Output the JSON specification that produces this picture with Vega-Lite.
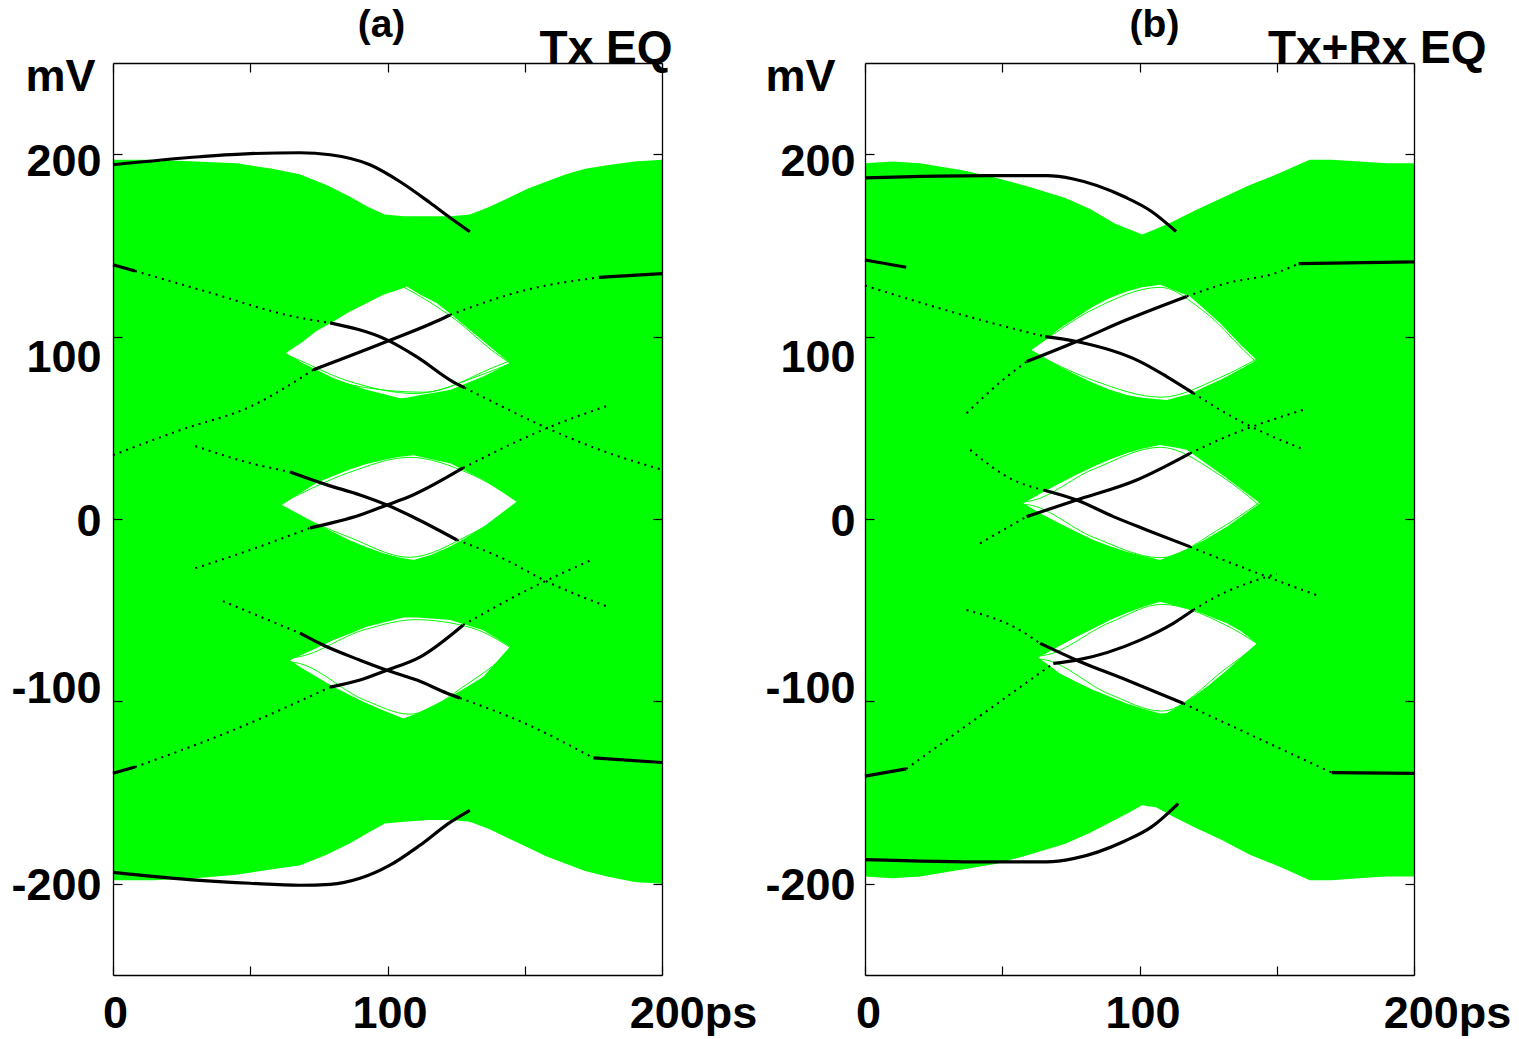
{
"$schema": "https://vega.github.io/schema/vega-lite/v6.json",
"background": "white",
"padding": {"left": 10, "top": 5, "right": 5, "bottom": 0},
"config": {
  "view": {"stroke": null},
  "axis": {"labelFont": "Liberation Sans", "labelFontWeight": "bold", "labelFontSize": 45, "labelColor": "#000",
           "titleFont": "Liberation Sans", "titleFontWeight": "bold", "titleFontSize": 45, "titleColor": "#000",
           "domainColor": "#000", "domainWidth": 1.3, "tickColor": "#000", "tickWidth": 1.2, "grid": false,
           "labelFlush": false, "labelOverlap": false, "labelBound": false}
},
"datasets": {
  "env": [
    {"p":"a","x":0,"top":197,"bot":-198},{"p":"a","x":15,"top":197,"bot":-198},{"p":"a","x":30,"top":196,"bot":-197},{"p":"a","x":45,"top":195,"bot":-195},{"p":"a","x":58,"top":192,"bot":-192},{"p":"a","x":68,"top":189,"bot":-190},{"p":"a","x":78,"top":183,"bot":-184},{"p":"a","x":86,"top":177,"bot":-178},{"p":"a","x":93,"top":171,"bot":-172},{"p":"a","x":99,"top":167,"bot":-167},{"p":"a","x":106,"top":166,"bot":-166},{"p":"a","x":115,"top":166,"bot":-165},{"p":"a","x":123,"top":166,"bot":-165},{"p":"a","x":130,"top":167,"bot":-166},{"p":"a","x":137,"top":171,"bot":-170},{"p":"a","x":144,"top":176,"bot":-175},{"p":"a","x":151,"top":181,"bot":-180},{"p":"a","x":158,"top":185,"bot":-185},{"p":"a","x":165,"top":189,"bot":-189},{"p":"a","x":172,"top":192,"bot":-193},{"p":"a","x":180,"top":194,"bot":-196},{"p":"a","x":190,"top":196,"bot":-199},{"p":"a","x":200,"top":197,"bot":-200},
    {"p":"b","x":0,"top":195,"bot":-196},{"p":"b","x":10,"top":196,"bot":-197},{"p":"b","x":20,"top":195,"bot":-196},{"p":"b","x":36,"top":191,"bot":-192},{"p":"b","x":48,"top":187,"bot":-189},{"p":"b","x":60,"top":182,"bot":-184},{"p":"b","x":73,"top":176,"bot":-178},{"p":"b","x":82,"top":170,"bot":-172},{"p":"b","x":91,"top":162,"bot":-165},{"p":"b","x":96,"top":159,"bot":-161},{"p":"b","x":101,"top":156,"bot":-157},{"p":"b","x":106,"top":159,"bot":-158},{"p":"b","x":112,"top":163,"bot":-163},{"p":"b","x":120,"top":169,"bot":-169},{"p":"b","x":130,"top":176,"bot":-176},{"p":"b","x":140,"top":183,"bot":-184},{"p":"b","x":150,"top":189,"bot":-190},{"p":"b","x":156,"top":193,"bot":-194},{"p":"b","x":162,"top":197,"bot":-198},{"p":"b","x":170,"top":197,"bot":-198},{"p":"b","x":180,"top":196,"bot":-197},{"p":"b","x":190,"top":195,"bot":-196},{"p":"b","x":200,"top":195,"bot":-196}
  ],
  "eye": [
    {"p":"a","e":"1","x":63,"top":91,"bot":91},{"p":"a","e":"1","x":69,"top":97,"bot":85.5},{"p":"a","e":"1","x":74,"top":103,"bot":82},{"p":"a","e":"1","x":80,"top":108,"bot":77.5},{"p":"a","e":"1","x":86,"top":113.5,"bot":74},{"p":"a","e":"1","x":92,"top":118,"bot":71},{"p":"a","e":"1","x":98.5,"top":123,"bot":68.5},{"p":"a","e":"1","x":104.6,"top":126,"bot":66.2},{"p":"a","e":"1","x":107,"top":127.5,"bot":66.5},{"p":"a","e":"1","x":112,"top":123,"bot":68},{"p":"a","e":"1","x":118,"top":118.3,"bot":69.5},{"p":"a","e":"1","x":123,"top":112.4,"bot":70.8},{"p":"a","e":"1","x":129,"top":104.8,"bot":74.5},{"p":"a","e":"1","x":135,"top":97.5,"bot":78.2},{"p":"a","e":"1","x":140,"top":91.1,"bot":82},{"p":"a","e":"1","x":144.6,"top":85.5,"bot":85.5},
    {"p":"a","e":"2","x":61.5,"top":7.7,"bot":7.7},{"p":"a","e":"2","x":68,"top":14,"bot":2.5},{"p":"a","e":"2","x":74,"top":19.6,"bot":-2.4},{"p":"a","e":"2","x":80,"top":23.5,"bot":-7},{"p":"a","e":"2","x":86,"top":27,"bot":-11.5},{"p":"a","e":"2","x":92,"top":30,"bot":-15.2},{"p":"a","e":"2","x":98.5,"top":32.4,"bot":-18.8},{"p":"a","e":"2","x":104,"top":34,"bot":-21},{"p":"a","e":"2","x":109.4,"top":35,"bot":-22.5},{"p":"a","e":"2","x":116,"top":32.8,"bot":-19.6},{"p":"a","e":"2","x":123,"top":30.4,"bot":-15},{"p":"a","e":"2","x":129,"top":25.9,"bot":-9.8},{"p":"a","e":"2","x":135,"top":21.4,"bot":-4.2},{"p":"a","e":"2","x":141,"top":15.5,"bot":2.6},{"p":"a","e":"2","x":147,"top":9.5,"bot":9.5},
    {"p":"a","e":"3","x":64.5,"top":-77.4,"bot":-77.4},{"p":"a","e":"3","x":68,"top":-75,"bot":-81},{"p":"a","e":"3","x":74,"top":-70.8,"bot":-86.3},{"p":"a","e":"3","x":80.3,"top":-66.4,"bot":-92},{"p":"a","e":"3","x":86,"top":-63,"bot":-96.3},{"p":"a","e":"3","x":92.4,"top":-59.1,"bot":-101},{"p":"a","e":"3","x":99,"top":-56.6,"bot":-105.3},{"p":"a","e":"3","x":105.8,"top":-54,"bot":-109.4},{"p":"a","e":"3","x":110.6,"top":-54,"bot":-106.6},{"p":"a","e":"3","x":116,"top":-54.6,"bot":-102.7},{"p":"a","e":"3","x":122.8,"top":-55.4,"bot":-97.5},{"p":"a","e":"3","x":129,"top":-58.2,"bot":-92},{"p":"a","e":"3","x":134.9,"top":-61,"bot":-86.5},{"p":"a","e":"3","x":140,"top":-65.7,"bot":-77.9},{"p":"a","e":"3","x":144.6,"top":-70,"bot":-70},
    {"p":"b","e":"1","x":60.7,"top":92.7,"bot":92.7},{"p":"b","e":"1","x":66,"top":98.5,"bot":88},{"p":"b","e":"1","x":71,"top":104.6,"bot":83.6},{"p":"b","e":"1","x":77,"top":110.5,"bot":79},{"p":"b","e":"1","x":83.2,"top":116.5,"bot":74.5},{"p":"b","e":"1","x":89,"top":121,"bot":71},{"p":"b","e":"1","x":95.3,"top":124.7,"bot":68},{"p":"b","e":"1","x":101,"top":127,"bot":66.5},{"p":"b","e":"1","x":107.5,"top":128.4,"bot":65.5},{"p":"b","e":"1","x":110,"top":127,"bot":65.3},{"p":"b","e":"1","x":114,"top":124.6,"bot":66.9},{"p":"b","e":"1","x":118.4,"top":122,"bot":68.5},{"p":"b","e":"1","x":124,"top":114.6,"bot":72.7},{"p":"b","e":"1","x":129.3,"top":107.4,"bot":76.2},{"p":"b","e":"1","x":132,"top":103.2,"bot":78.3},{"p":"b","e":"1","x":137,"top":95.3,"bot":82.4},{"p":"b","e":"1","x":142.7,"top":87.2,"bot":87.2},
    {"p":"b","e":"2","x":57.7,"top":8.6,"bot":8.6},{"p":"b","e":"2","x":64,"top":14,"bot":3},{"p":"b","e":"2","x":71,"top":19.6,"bot":-2.4},{"p":"b","e":"2","x":77,"top":24.2,"bot":-7},{"p":"b","e":"2","x":83.2,"top":28.7,"bot":-11.5},{"p":"b","e":"2","x":89,"top":32.5,"bot":-14.8},{"p":"b","e":"2","x":95.3,"top":36,"bot":-17.9},{"p":"b","e":"2","x":101,"top":38.5,"bot":-20.2},{"p":"b","e":"2","x":107.5,"top":40.6,"bot":-22.5},{"p":"b","e":"2","x":112,"top":39.5,"bot":-19.8},{"p":"b","e":"2","x":117.2,"top":37.9,"bot":-16.6},{"p":"b","e":"2","x":123,"top":31.8,"bot":-12.1},{"p":"b","e":"2","x":129.3,"top":25.1,"bot":-6.5},{"p":"b","e":"2","x":131.8,"top":22.3,"bot":-4.2},{"p":"b","e":"2","x":137,"top":16.5,"bot":1.3},{"p":"b","e":"2","x":143.9,"top":8.6,"bot":8.6},
    {"p":"b","e":"3","x":63.1,"top":-75.9,"bot":-75.9},{"p":"b","e":"3","x":67,"top":-72.8,"bot":-80.2},{"p":"b","e":"3","x":71,"top":-69.5,"bot":-84.7},{"p":"b","e":"3","x":77.1,"top":-64.6,"bot":-89.3},{"p":"b","e":"3","x":83.2,"top":-60,"bot":-93.8},{"p":"b","e":"3","x":89.3,"top":-55.4,"bot":-97.5},{"p":"b","e":"3","x":95.3,"top":-51.5,"bot":-101.1},{"p":"b","e":"3","x":101.4,"top":-48.1,"bot":-104},{"p":"b","e":"3","x":107.5,"top":-45.4,"bot":-106.6},{"p":"b","e":"3","x":110,"top":-46.3,"bot":-106.4},{"p":"b","e":"3","x":114,"top":-47.8,"bot":-102.8},{"p":"b","e":"3","x":119.6,"top":-49.9,"bot":-97.5},{"p":"b","e":"3","x":125,"top":-53,"bot":-91.4},{"p":"b","e":"3","x":131.8,"top":-57.2,"bot":-82.9},{"p":"b","e":"3","x":137,"top":-61.5,"bot":-75.9},{"p":"b","e":"3","x":142.7,"top":-68.2,"bot":-68.2}
  ],
  "grn": [
    {"p":"a","id":"g1","x":40,"y":105},{"p":"a","id":"g1","x":63,"y":88},{"p":"a","id":"g1","x":90,"y":72.5},{"p":"a","id":"g1","x":113,"y":69.5},{"p":"a","id":"g1","x":140,"y":84},{"p":"a","id":"g1","x":160,"y":96},
    {"p":"a","id":"g2","x":40,"y":100},{"p":"a","id":"g2","x":63,"y":90},{"p":"a","id":"g2","x":86,"y":75.5},{"p":"a","id":"g2","x":110,"y":68.8},{"p":"a","id":"g2","x":135,"y":79.5},{"p":"a","id":"g2","x":155,"y":92},
    {"p":"a","id":"g3","x":95,"y":135},{"p":"a","id":"g3","x":112,"y":122},{"p":"a","id":"g3","x":125,"y":109},{"p":"a","id":"g3","x":138,"y":92.5},{"p":"a","id":"g3","x":160,"y":72},
    {"p":"a","id":"g4","x":40,"y":22},{"p":"a","id":"g4","x":61.5,"y":6},{"p":"a","id":"g4","x":86,"y":-10},{"p":"a","id":"g4","x":108,"y":-21},{"p":"a","id":"g4","x":130,"y":-8.5},{"p":"a","id":"g4","x":155,"y":15},
    {"p":"a","id":"g5","x":40,"y":-6},{"p":"a","id":"g5","x":61.5,"y":9},{"p":"a","id":"g5","x":86,"y":25.5},{"p":"a","id":"g5","x":108,"y":33.8},{"p":"a","id":"g5","x":130,"y":24.8},{"p":"a","id":"g5","x":155,"y":2},
    {"p":"a","id":"g6","x":40,"y":-62},{"p":"a","id":"g6","x":64.5,"y":-76},{"p":"a","id":"g6","x":92,"y":-60.5},{"p":"a","id":"g6","x":110,"y":-55.2},{"p":"a","id":"g6","x":130,"y":-59.4},{"p":"a","id":"g6","x":152,"y":-78},
    {"p":"a","id":"g7","x":40,"y":-94},{"p":"a","id":"g7","x":64.5,"y":-78.5},{"p":"a","id":"g7","x":92,"y":-99.5},{"p":"a","id":"g7","x":108,"y":-107},{"p":"a","id":"g7","x":130,"y":-89.5},{"p":"a","id":"g7","x":152,"y":-64},
    {"p":"b","id":"h1","x":40,"y":108},{"p":"b","id":"h1","x":60.7,"y":91.5},{"p":"b","id":"h1","x":83.2,"y":76},{"p":"b","id":"h1","x":108,"y":66.8},{"p":"b","id":"h1","x":129.3,"y":77.5},{"p":"b","id":"h1","x":150,"y":94},
    {"p":"b","id":"h2","x":40,"y":76},{"p":"b","id":"h2","x":60.7,"y":93.5},{"p":"b","id":"h2","x":83.2,"y":115},{"p":"b","id":"h2","x":107.5,"y":127},{"p":"b","id":"h2","x":124,"y":113.2},{"p":"b","id":"h2","x":142.7,"y":86},{"p":"b","id":"h2","x":160,"y":70},
    {"p":"b","id":"h3","x":40,"y":-8},{"p":"b","id":"h3","x":57.7,"y":8},{"p":"b","id":"h3","x":83.2,"y":-10},{"p":"b","id":"h3","x":107.5,"y":-21.2},{"p":"b","id":"h3","x":129.3,"y":-5.3},{"p":"b","id":"h3","x":150,"y":16},
    {"p":"b","id":"h4","x":40,"y":25},{"p":"b","id":"h4","x":57.7,"y":9.5},{"p":"b","id":"h4","x":83.2,"y":27.3},{"p":"b","id":"h4","x":107.5,"y":39.3},{"p":"b","id":"h4","x":129.3,"y":24},{"p":"b","id":"h4","x":150,"y":-1},
    {"p":"b","id":"h5","x":40,"y":-61},{"p":"b","id":"h5","x":63.1,"y":-75},{"p":"b","id":"h5","x":89.3,"y":-56.7},{"p":"b","id":"h5","x":108,"y":-46.8},{"p":"b","id":"h5","x":131.8,"y":-58.5},{"p":"b","id":"h5","x":152,"y":-78},
    {"p":"b","id":"h6","x":40,"y":-91},{"p":"b","id":"h6","x":63.1,"y":-76.8},{"p":"b","id":"h6","x":89.3,"y":-96.2},{"p":"b","id":"h6","x":108,"y":-105.3},{"p":"b","id":"h6","x":131.8,"y":-81.6},{"p":"b","id":"h6","x":152,"y":-58}
  ],
  "dot": [
    {"p":"a","id":"d1","x":8,"y":136},{"p":"a","id":"d1","x":31.7,"y":125.7},{"p":"a","id":"d1","x":68.1,"y":110.3},{"p":"a","id":"d1","x":79.1,"y":107.5},
    {"p":"a","id":"d2","x":128,"y":72},{"p":"a","id":"d2","x":140,"y":63},{"p":"a","id":"d2","x":155.6,"y":51.6},{"p":"a","id":"d2","x":177.4,"y":37.9},{"p":"a","id":"d2","x":200,"y":27},
    {"p":"a","id":"d3","x":0,"y":35},{"p":"a","id":"d3","x":25,"y":49},{"p":"a","id":"d3","x":49.9,"y":61.5},{"p":"a","id":"d3","x":73,"y":81.8},
    {"p":"a","id":"d4","x":122.8,"y":111.9},{"p":"a","id":"d4","x":150.8,"y":125.7},{"p":"a","id":"d4","x":177,"y":132.5},
    {"p":"a","id":"d5","x":30,"y":40},{"p":"a","id":"d5","x":49.9,"y":30.7},{"p":"a","id":"d5","x":64.5,"y":25.8},
    {"p":"a","id":"d6","x":125.3,"y":-11.5},{"p":"a","id":"d6","x":141,"y":-20.9},{"p":"a","id":"d6","x":159.2,"y":-35.1},{"p":"a","id":"d6","x":180,"y":-48},
    {"p":"a","id":"d7","x":30,"y":-27},{"p":"a","id":"d7","x":49.9,"y":-17},{"p":"a","id":"d7","x":71.8,"y":-4.9},
    {"p":"a","id":"d8","x":127.5,"y":28},{"p":"a","id":"d8","x":159.2,"y":50.5},{"p":"a","id":"d8","x":180,"y":62},
    {"p":"a","id":"d9","x":40,"y":-45},{"p":"a","id":"d9","x":68.1,"y":-62.6},
    {"p":"a","id":"d10","x":126.4,"y":-98.2},{"p":"a","id":"d10","x":150,"y":-112},{"p":"a","id":"d10","x":175,"y":-131},
    {"p":"a","id":"d11","x":8,"y":-136},{"p":"a","id":"d11","x":45,"y":-115},{"p":"a","id":"d11","x":79.1,"y":-92.2},
    {"p":"a","id":"d12","x":127.5,"y":-58.2},{"p":"a","id":"d12","x":150.8,"y":-39},{"p":"a","id":"d12","x":175,"y":-22},
    {"p":"b","id":"d1","x":0,"y":128},{"p":"b","id":"d1","x":41.9,"y":109.2},{"p":"b","id":"d1","x":65.6,"y":100},
    {"p":"b","id":"d2","x":37,"y":58},{"p":"b","id":"d2","x":50.3,"y":76.3},{"p":"b","id":"d2","x":58.9,"y":86.3},
    {"p":"b","id":"d3","x":117.2,"y":122},{"p":"b","id":"d3","x":131.8,"y":129.3},{"p":"b","id":"d3","x":150,"y":135},{"p":"b","id":"d3","x":158,"y":140},
    {"p":"b","id":"d4","x":119.6,"y":69},{"p":"b","id":"d4","x":135,"y":55},{"p":"b","id":"d4","x":160,"y":38},
    {"p":"b","id":"d5","x":38.3,"y":37.9},{"p":"b","id":"d5","x":54,"y":21.4},{"p":"b","id":"d5","x":65,"y":15.9},
    {"p":"b","id":"d6","x":118.4,"y":-15.2},{"p":"b","id":"d6","x":140,"y":-28},{"p":"b","id":"d6","x":165,"y":-42},
    {"p":"b","id":"d7","x":41.9,"y":-13.3},{"p":"b","id":"d7","x":58.9,"y":1.3},
    {"p":"b","id":"d8","x":118.4,"y":36},{"p":"b","id":"d8","x":131.8,"y":45.2},{"p":"b","id":"d8","x":160,"y":60},
    {"p":"b","id":"d9","x":37,"y":-49.9},{"p":"b","id":"d9","x":56.5,"y":-61},{"p":"b","id":"d9","x":63.8,"y":-68.2},
    {"p":"b","id":"d10","x":116,"y":-101.1},{"p":"b","id":"d10","x":140,"y":-118},{"p":"b","id":"d10","x":170,"y":-139},
    {"p":"b","id":"d11","x":15,"y":-137},{"p":"b","id":"d11","x":40,"y":-110},{"p":"b","id":"d11","x":68.6,"y":-79.2},
    {"p":"b","id":"d12","x":119.6,"y":-49.9},{"p":"b","id":"d12","x":125.7,"y":-44.4},{"p":"b","id":"d12","x":150,"y":-30}
  ],
  "blk": [
    {"p":"a","id":"s1","x":0,"y":194.2},{"p":"a","id":"s1","x":31.7,"y":198.6},{"p":"a","id":"s1","x":49.9,"y":200.3},{"p":"a","id":"s1","x":68.1,"y":200.8},{"p":"a","id":"s1","x":79.1,"y":199.7},{"p":"a","id":"s1","x":93.6,"y":194.2},{"p":"a","id":"s1","x":104.6,"y":184.9},{"p":"a","id":"s1","x":115.5,"y":173.4},{"p":"a","id":"s1","x":122.8,"y":165.2},{"p":"a","id":"s1","x":130,"y":157.5},
    {"p":"a","id":"s2","x":0,"y":-193.7},{"p":"a","id":"s2","x":31.7,"y":-198.1},{"p":"a","id":"s2","x":49.9,"y":-199.7},{"p":"a","id":"s2","x":68.1,"y":-200.8},{"p":"a","id":"s2","x":79.1,"y":-200.3},{"p":"a","id":"s2","x":90,"y":-197},{"p":"a","id":"s2","x":100.9,"y":-189.8},{"p":"a","id":"s2","x":111.8,"y":-178.9},{"p":"a","id":"s2","x":122.8,"y":-166.3},{"p":"a","id":"s2","x":130,"y":-159.7},
    {"p":"a","id":"s3","x":0,"y":139.4},{"p":"a","id":"s3","x":8,"y":136},
    {"p":"a","id":"s4","x":79.1,"y":107.5},{"p":"a","id":"s4","x":99.8,"y":98.2},{"p":"a","id":"s4","x":110.7,"y":88.9},{"p":"a","id":"s4","x":123.9,"y":75.2},{"p":"a","id":"s4","x":128,"y":72},
    {"p":"a","id":"s5","x":73,"y":81.8},{"p":"a","id":"s5","x":99.7,"y":97.3},{"p":"a","id":"s5","x":120.3,"y":110.1},{"p":"a","id":"s5","x":122.8,"y":111.9},
    {"p":"a","id":"s6","x":64.5,"y":25.8},{"p":"a","id":"s6","x":78,"y":18.7},{"p":"a","id":"s6","x":90,"y":13.2},{"p":"a","id":"s6","x":99.8,"y":7.7},{"p":"a","id":"s6","x":109.3,"y":1.1},{"p":"a","id":"s6","x":125.3,"y":-11.5},
    {"p":"a","id":"s7","x":71.8,"y":-4.9},{"p":"a","id":"s7","x":90,"y":2.2},{"p":"a","id":"s7","x":99.8,"y":7.7},{"p":"a","id":"s7","x":109.3,"y":13.2},{"p":"a","id":"s7","x":127.5,"y":28},
    {"p":"a","id":"s8","x":68.1,"y":-62.6},{"p":"a","id":"s8","x":76.5,"y":-69.1},{"p":"a","id":"s8","x":90,"y":-77.4},{"p":"a","id":"s8","x":99.8,"y":-82.9},{"p":"a","id":"s8","x":110.7,"y":-88.3},{"p":"a","id":"s8","x":121.7,"y":-95.5},{"p":"a","id":"s8","x":126.4,"y":-98.2},
    {"p":"a","id":"s9","x":79.1,"y":-92.2},{"p":"a","id":"s9","x":90,"y":-88.3},{"p":"a","id":"s9","x":99.8,"y":-82.9},{"p":"a","id":"s9","x":111.8,"y":-75.7},{"p":"a","id":"s9","x":127.5,"y":-58.2},
    {"p":"a","id":"s10","x":177,"y":132.5},{"p":"a","id":"s10","x":200,"y":134.5},
    {"p":"a","id":"s11","x":175,"y":-131},{"p":"a","id":"s11","x":200,"y":-133.5},
    {"p":"a","id":"s12","x":0,"y":-139.4},{"p":"a","id":"s12","x":8,"y":-136},
    {"p":"b","id":"s1","x":0,"y":187},{"p":"b","id":"s1","x":44.8,"y":188.2},{"p":"b","id":"s1","x":66.2,"y":188.2},{"p":"b","id":"s1","x":75.9,"y":186.4},{"p":"b","id":"s1","x":94.7,"y":176.5},{"p":"b","id":"s1","x":104.4,"y":168.6},{"p":"b","id":"s1","x":113.3,"y":157.6},
    {"p":"b","id":"s2","x":0,"y":-186.7},{"p":"b","id":"s2","x":44.8,"y":-188},{"p":"b","id":"s2","x":66.2,"y":-188},{"p":"b","id":"s2","x":75.9,"y":-186.2},{"p":"b","id":"s2","x":94.7,"y":-176.5},{"p":"b","id":"s2","x":104.4,"y":-168.8},{"p":"b","id":"s2","x":114.1,"y":-156},
    {"p":"b","id":"s3","x":65.6,"y":100},{"p":"b","id":"s3","x":77.1,"y":97.3},{"p":"b","id":"s3","x":100.2,"y":86.3},{"p":"b","id":"s3","x":109.9,"y":78.1},{"p":"b","id":"s3","x":119.6,"y":69},
    {"p":"b","id":"s4","x":58.9,"y":86.3},{"p":"b","id":"s4","x":77.1,"y":97.3},{"p":"b","id":"s4","x":95.3,"y":109.2},{"p":"b","id":"s4","x":117.2,"y":122},
    {"p":"b","id":"s5","x":65,"y":15.9},{"p":"b","id":"s5","x":77.1,"y":10.4},{"p":"b","id":"s5","x":90.5,"y":1.3},{"p":"b","id":"s5","x":102.6,"y":-6},{"p":"b","id":"s5","x":118.4,"y":-15.2},
    {"p":"b","id":"s6","x":58.9,"y":1.3},{"p":"b","id":"s6","x":77.1,"y":10.4},{"p":"b","id":"s6","x":99,"y":21.4},{"p":"b","id":"s6","x":118.4,"y":36},
    {"p":"b","id":"s7","x":63.8,"y":-68.2},{"p":"b","id":"s7","x":77.1,"y":-77.4},{"p":"b","id":"s7","x":95.3,"y":-88.3},{"p":"b","id":"s7","x":116,"y":-101.1},
    {"p":"b","id":"s8","x":68.6,"y":-79.2},{"p":"b","id":"s8","x":77.1,"y":-77.4},{"p":"b","id":"s8","x":100.2,"y":-66.4},{"p":"b","id":"s8","x":112.3,"y":-57.2},{"p":"b","id":"s8","x":119.6,"y":-49.9},
    {"p":"b","id":"s9","x":158,"y":140},{"p":"b","id":"s9","x":200,"y":141},
    {"p":"b","id":"s10","x":170,"y":-139},{"p":"b","id":"s10","x":200,"y":-139.5},
    {"p":"b","id":"s11","x":0,"y":142},{"p":"b","id":"s11","x":15,"y":138},
    {"p":"b","id":"s12","x":0,"y":-141},{"p":"b","id":"s12","x":15,"y":-137}
  ]
},
"spacing": 203,
"bounds": "flush",
"hconcat": [
  {
    "width": 549, "height": 912,
    "resolve": {"axis": {"x": "independent", "y": "independent"}},
    "layer": [
      {"data": {"name": "env"}, "transform": [{"filter": "datum.p == 'a'"}],
       "mark": {"type": "area", "color": "#00ff00", "orient": "vertical"},
       "encoding": {
         "x": {"field": "x", "type": "quantitative", "scale": {"domain": [0, 200], "nice": false, "zero": false},
               "axis": {"orient": "bottom", "values": [0, 50, 100, 150, 200], "tickSize": -9, "labelPadding": 25, "title": null, "zindex": 2,
                        "labelExpr": "datum.value == 200 ? '200ps' : (datum.value == 0 || datum.value == 100) ? '' + datum.value : ''",
                        "labelOffset": {"condition": {"test": "datum.value == 200", "value": 31}, "value": 2}}},
         "y": {"field": "top", "type": "quantitative", "scale": {"domain": [-250, 250], "nice": false, "zero": false},
               "axis": {"orient": "left", "values": [-200, -100, 0, 100, 200], "tickSize": -9, "labelPadding": 21, "zindex": 2,
                        "labelExpr": "datum.value < 0 ? '-' + (-datum.value) : '' + datum.value",
                        "labelOffset": {"condition": [{"test": "datum.value == 100", "value": 21}, {"test": "datum.value == -100", "value": -13}, {"test": "datum.value == 200", "value": 7}], "value": 2},
                        "title": "mV", "titleAngle": 0, "titleAlign": "left", "titleBaseline": "alphabetic", "titleX": -88, "titleY": 27}},
         "y2": {"field": "bot"}}},
      {"data": {"name": "eye"}, "transform": [{"filter": "datum.p == 'a'"}],
       "mark": {"type": "area", "color": "white", "orient": "vertical"},
       "encoding": {
         "x": {"field": "x", "type": "quantitative", "scale": {"domain": [0, 200], "nice": false, "zero": false},
               "axis": {"orient": "top", "values": [0, 50, 100, 150, 200], "tickSize": -9, "labels": false, "zindex": 2,
                        "title": "(a)", "titleFontSize": 39, "titleX": 268, "titleY": -27, "titleAlign": "center", "titleBaseline": "alphabetic"}},
         "y": {"field": "top", "type": "quantitative", "scale": {"domain": [-250, 250], "nice": false, "zero": false},
               "axis": {"orient": "right", "values": [-200, -100, 0, 100, 200], "tickSize": -9, "labels": false, "zindex": 2,
                        "title": "Tx EQ", "titleFontSize": 46, "titleAngle": 0, "titleAlign": "right", "titleBaseline": "alphabetic", "titleX": 10, "titleY": -1}},
         "y2": {"field": "bot"},
         "detail": {"field": "e"}}},
      {"data": {"name": "grn"}, "transform": [{"filter": "datum.p == 'a'"}],
       "mark": {"type": "line", "color": "#00ff00", "strokeWidth": 1, "interpolate": "monotone"},
       "encoding": {
         "x": {"field": "x", "type": "quantitative", "axis": null, "scale": {"domain": [0, 200], "nice": false, "zero": false}},
         "y": {"field": "y", "type": "quantitative", "axis": null, "scale": {"domain": [-250, 250], "nice": false, "zero": false}},
         "detail": {"field": "id"}}},
      {"data": {"name": "dot"}, "transform": [{"filter": "datum.p == 'a'"}],
       "mark": {"type": "line", "color": "#000", "strokeWidth": 2, "strokeDash": [2, 5], "interpolate": "monotone"},
       "encoding": {
         "x": {"field": "x", "type": "quantitative", "axis": null, "scale": {"domain": [0, 200], "nice": false, "zero": false}},
         "y": {"field": "y", "type": "quantitative", "axis": null, "scale": {"domain": [-250, 250], "nice": false, "zero": false}},
         "detail": {"field": "id"}}},
      {"data": {"name": "blk"}, "transform": [{"filter": "datum.p == 'a'"}],
       "mark": {"type": "line", "color": "#000", "strokeWidth": 3.2, "interpolate": "monotone"},
       "encoding": {
         "x": {"field": "x", "type": "quantitative", "axis": null, "scale": {"domain": [0, 200], "nice": false, "zero": false}},
         "y": {"field": "y", "type": "quantitative", "axis": null, "scale": {"domain": [-250, 250], "nice": false, "zero": false}},
         "detail": {"field": "id"}}}
    ]
  },
  {
    "width": 549, "height": 912,
    "resolve": {"axis": {"x": "independent", "y": "independent"}},
    "layer": [
      {"data": {"name": "env"}, "transform": [{"filter": "datum.p == 'b'"}],
       "mark": {"type": "area", "color": "#00ff00", "orient": "vertical"},
       "encoding": {
         "x": {"field": "x", "type": "quantitative", "scale": {"domain": [0, 200], "nice": false, "zero": false},
               "axis": {"orient": "bottom", "values": [0, 50, 100, 150, 200], "tickSize": -9, "labelPadding": 25, "title": null, "zindex": 2,
                        "labelExpr": "datum.value == 200 ? '200ps' : (datum.value == 0 || datum.value == 100) ? '' + datum.value : ''",
                        "labelOffset": {"condition": {"test": "datum.value == 200", "value": 33}, "value": 3}}},
         "y": {"field": "top", "type": "quantitative", "scale": {"domain": [-250, 250], "nice": false, "zero": false},
               "axis": {"orient": "left", "values": [-200, -100, 0, 100, 200], "tickSize": -9, "labelPadding": 19, "zindex": 2,
                        "labelExpr": "datum.value < 0 ? '-' + (-datum.value) : '' + datum.value",
                        "labelOffset": {"condition": [{"test": "datum.value == 100", "value": 21}, {"test": "datum.value == -100", "value": -13}, {"test": "datum.value == 200", "value": 7}], "value": 2},
                        "title": "mV", "titleAngle": 0, "titleAlign": "left", "titleBaseline": "alphabetic", "titleX": -100, "titleY": 27}},
         "y2": {"field": "bot"}}},
      {"data": {"name": "eye"}, "transform": [{"filter": "datum.p == 'b'"}],
       "mark": {"type": "area", "color": "white", "orient": "vertical"},
       "encoding": {
         "x": {"field": "x", "type": "quantitative", "scale": {"domain": [0, 200], "nice": false, "zero": false},
               "axis": {"orient": "top", "values": [0, 50, 100, 150, 200], "tickSize": -9, "labels": false, "zindex": 2,
                        "title": "(b)", "titleFontSize": 39, "titleX": 289, "titleY": -27, "titleAlign": "center", "titleBaseline": "alphabetic"}},
         "y": {"field": "top", "type": "quantitative", "scale": {"domain": [-250, 250], "nice": false, "zero": false},
               "axis": {"orient": "right", "values": [-200, -100, 0, 100, 200], "tickSize": -9, "labels": false, "zindex": 2,
                        "title": "Tx+Rx EQ", "titleFontSize": 46, "titleAngle": 0, "titleAlign": "right", "titleBaseline": "alphabetic", "titleX": 72, "titleY": -1}},
         "y2": {"field": "bot"},
         "detail": {"field": "e"}}},
      {"data": {"name": "grn"}, "transform": [{"filter": "datum.p == 'b'"}],
       "mark": {"type": "line", "color": "#00ff00", "strokeWidth": 1, "interpolate": "monotone"},
       "encoding": {
         "x": {"field": "x", "type": "quantitative", "axis": null, "scale": {"domain": [0, 200], "nice": false, "zero": false}},
         "y": {"field": "y", "type": "quantitative", "axis": null, "scale": {"domain": [-250, 250], "nice": false, "zero": false}},
         "detail": {"field": "id"}}},
      {"data": {"name": "dot"}, "transform": [{"filter": "datum.p == 'b'"}],
       "mark": {"type": "line", "color": "#000", "strokeWidth": 2, "strokeDash": [2, 5], "interpolate": "monotone"},
       "encoding": {
         "x": {"field": "x", "type": "quantitative", "axis": null, "scale": {"domain": [0, 200], "nice": false, "zero": false}},
         "y": {"field": "y", "type": "quantitative", "axis": null, "scale": {"domain": [-250, 250], "nice": false, "zero": false}},
         "detail": {"field": "id"}}},
      {"data": {"name": "blk"}, "transform": [{"filter": "datum.p == 'b'"}],
       "mark": {"type": "line", "color": "#000", "strokeWidth": 3.2, "interpolate": "monotone"},
       "encoding": {
         "x": {"field": "x", "type": "quantitative", "axis": null, "scale": {"domain": [0, 200], "nice": false, "zero": false}},
         "y": {"field": "y", "type": "quantitative", "axis": null, "scale": {"domain": [-250, 250], "nice": false, "zero": false}},
         "detail": {"field": "id"}}}
    ]
  }
]
}
